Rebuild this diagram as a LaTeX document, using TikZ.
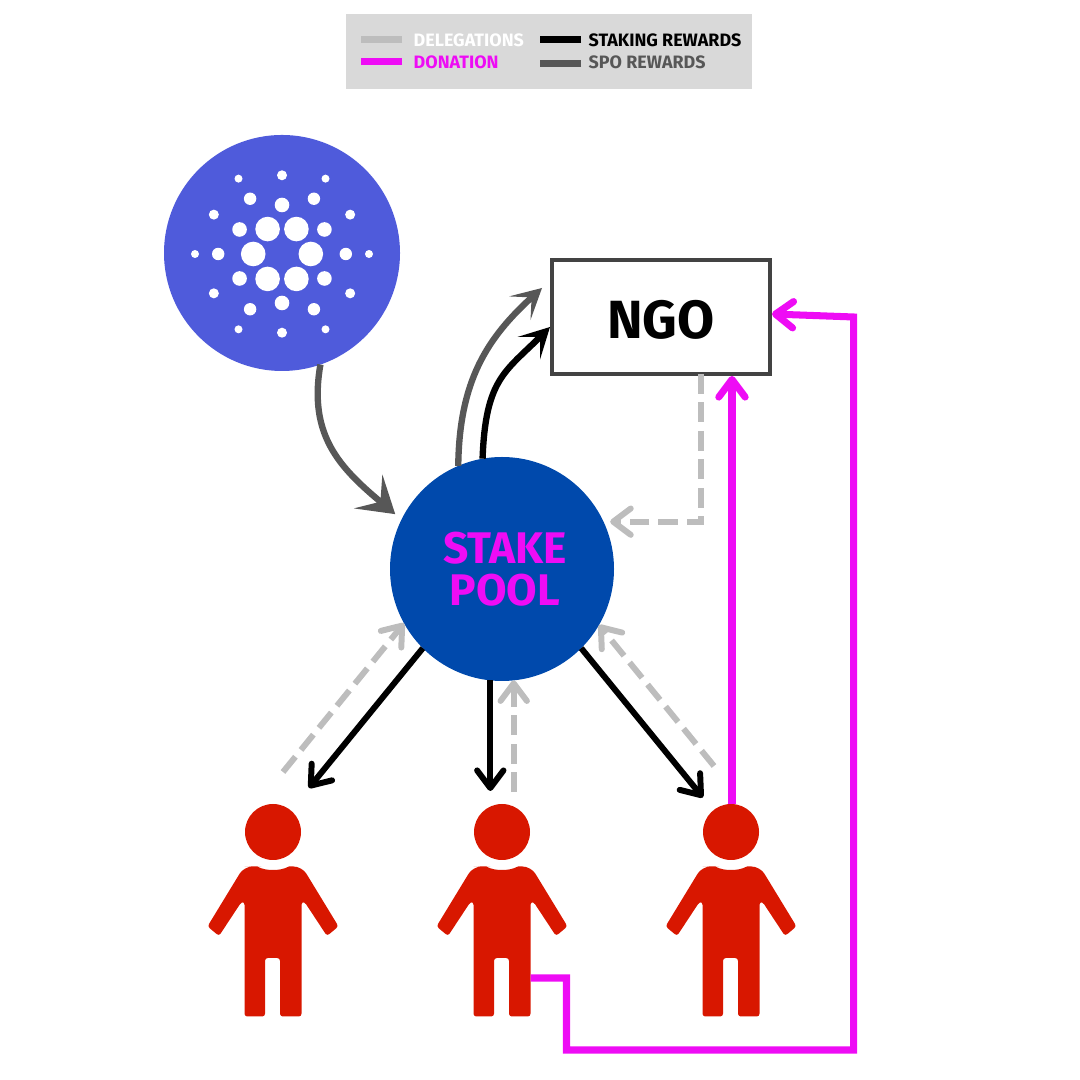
\documentclass[tikz,border=0pt]{standalone}
\usepackage{xcolor}
\usepackage{fontspec}
\setmainfont{Fira Sans}
\usepackage{tikz}
\usetikzlibrary{arrows.meta}
\definecolor{adablue}{RGB}{79,91,219}
\definecolor{poolblue}{RGB}{0,73,172}
\definecolor{personred}{RGB}{216,23,0}
\definecolor{donpink}{RGB}{238,12,245}
\definecolor{spogray}{RGB}{87,87,87}
\definecolor{delgray}{RGB}{189,189,189}
\definecolor{legendgray}{RGB}{217,217,217}
\definecolor{ngoedge}{RGB}{67,67,67}
\tikzset{
  barbtip/.style={-{Straight Barb[length=5pt,width=7.5pt,round]}},
  swooptip/.style={-{Stealth[length=8.5pt,width=9pt,inset=4.5pt]}},
  staking/.style={draw=black, line width=1.7pt, barbtip},
  delegation/.style={draw=delgray, line width=1.7pt, dash pattern=on 5.6pt off 2.5pt, barbtip},
  donation/.style={draw=donpink, line width=2pt, barbtip},
  curvespo/.style={draw=spogray, line width=1.8pt, swooptip},
  curvestake/.style={draw=black, line width=1.8pt, swooptip},
  legendtext/.style={font=\fontsize{5.1}{6}\selectfont\bfseries, anchor=west, inner sep=0pt},
  legendkey/.style={line width=2pt},
  person/.pic={
    \node[circle, fill=personred, minimum size=.56cm, inner sep=0pt, outer sep=0pt] (head) at (0,0) {};
    \coordinate (hip) at (.285,-1.46);
    \fill[personred] (-.2,-.345) -- (-.16,-.345) .. controls (-.1,-.375) and (-.05,-.38) .. (0,-.38)
      .. controls (.05,-.38) and (.1,-.375) .. (.16,-.345) [rounded corners=2.4pt]
      -- (.29,-.345) [rounded corners=.8pt] -- (.655,-.944) -- (.54,-1.04) -- (.316,-.70) -- (.285,-.70) -- (.285,-1.845)
      -- (.07,-1.845) -- (.07,-1.26) -- (-.08,-1.26) -- (-.08,-1.845) -- (-.285,-1.845) -- (-.285,-.70) -- (-.316,-.70)
      -- (-.54,-1.04) -- (-.655,-.944) [rounded corners=2.4pt] -- (-.29,-.345) -- cycle;
  }
}

\begin{document}
\begin{tikzpicture}[font=\bfseries]
\useasboundingbox (0,0) rectangle (10.8,10.8);

% legend
\node[fill=legendgray, minimum width=4.06cm, minimum height=.75cm, inner sep=0pt] (legend) at (5.49,10.285) {};
\node[legendtext, text=white] (tdeleg) at (4.13,10.40) {DELEGATIONS};
\node[legendtext, text=donpink] (tdon) at (4.13,10.18) {DONATION};
\node[legendtext, text=black] (tstake) at (5.88,10.40) {STAKING REWARDS};
\node[legendtext, text=spogray] (tspo) at (5.88,10.18) {SPO REWARDS};
\draw[legendkey, delgray] ([xshift=-.11cm]tdeleg.west) -- ++(-.41,0);
\draw[legendkey, donpink] ([xshift=-.11cm]tdon.west) -- ++(-.41,0);
\draw[legendkey, black] ([xshift=-.07cm]tstake.west) -- ++(-.41,0);
\draw[legendkey, spogray] ([shift={(-.07,-.02)}]tspo.west) -- ++(-.41,0);

% main nodes
\node[circle, fill=adablue, minimum size=2.36cm, inner sep=0pt, outer sep=0pt] (ada) at (2.82,8.27) {};
\foreach \rad/\size/\offs in {.288/.123/0, .49/.073/30, .638/.062/0, .787/.05/30, .87/.04/0}
  \foreach \ang in {0,60,...,300}
    \fill[white] ([yshift=-.01cm]ada.center) ++(\ang+\offs:\rad) circle (\size);
\node[circle, fill=poolblue, minimum size=2.24cm, inner sep=0pt, outer sep=0pt, align=center, text=donpink,
  font=\fontsize{12.6}{12}\selectfont\bfseries] (pool) at (5.02,5.11) {\hspace*{.06cm}STAKE\\\hspace*{.06cm}POOL};
\node[draw=ngoedge, line width=1.13pt, fill=white, minimum width=2.18cm, minimum height=1.14cm, inner sep=0pt,
  font=\fontsize{15.3}{16}\selectfont\bfseries] (ngo) at (6.61,7.63) {\raisebox{-.215cm}[0pt][0pt]{NGO}};

\pic (p1) at (2.73,2.48) {person};
\pic (p2) at (5.02,2.48) {person};
\pic (p3) at (7.31,2.48) {person};

\coordinate (spotip) at (5.42,7.92);
\coordinate (staketip) at (5.50,7.53);
\coordinate (ngodrop) at (7.01,7.06);
\coordinate (deleg1) at (2.83,3.08);
\coordinate (deleg3) at (7.14,3.14);

% rewards
\draw[curvespo, -{Stealth[length=10pt,width=12.5pt,inset=4.5pt]}] (ada.-71) to[out=-100,in=140,looseness=1.1] ([shift={(-.07,.04)}]pool.153);
\draw[curvespo] (pool.113) .. controls +(.01,.85) and +(-.55,-.5) .. (spotip);
\draw[curvestake] (pool.100) .. controls +(.03,.8) and +(-.45,-.45) .. (staketip);
\draw[staking, shorten >=8.2pt] (pool.225) -- (p1head);
\draw[staking, shorten >=3.7pt] (pool.264) -- (pool.264 |- p2head.north);
\draw[staking, shorten >=4.7pt] (pool.-45) -- (p3head);

% delegations
\draw[delegation] (deleg1) -- (pool.209);
\draw[delegation, shorten <=3.4pt] (pool.-84 |- p2head.north) -- (pool.-84);
\draw[delegation] (deleg3) -- (pool.-30);
\draw[delegation, shorten >=1.9pt] (ngodrop) |- (pool.25);

% donations
\draw[donation] (p3head.88) -- (p3head.88 |- ngo.south);
\draw[donation] (p2hip) -- ++(.36,0) -- ++(0,-.72) -- ++(2.87,0) -- ++(0,7.33) -- ([yshift=.03cm]ngo.east);
\end{tikzpicture}
\end{document}
